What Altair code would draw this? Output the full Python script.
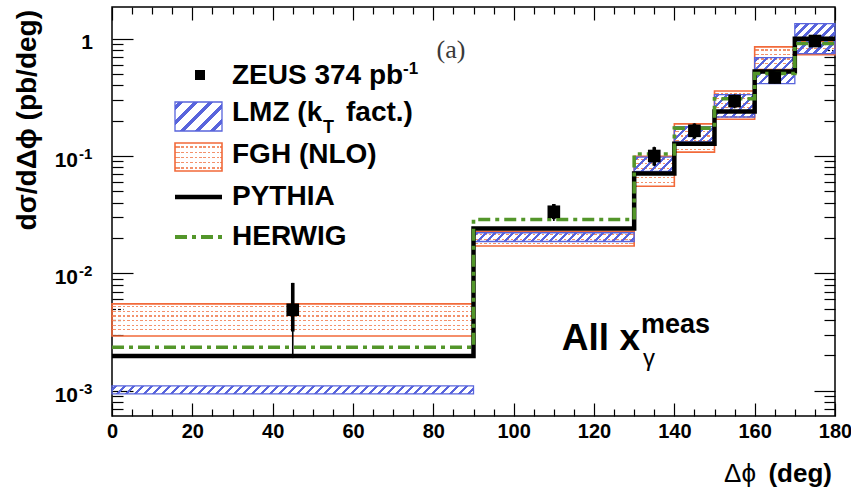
import math
import altair as alt
import pandas as pd

# ---------------- data ----------------
bin_lo = [0, 90, 130, 140, 150, 160, 170]
bin_hi = [90, 130, 140, 150, 160, 170, 180]

zeus_x = [45, 110, 135, 145, 155, 165, 175]
zeus_y = [4.9e-3, 0.0335, 0.100, 0.164, 0.294, 0.466, 0.954]
zeus_stat_hi = [8.3e-3, 0.039, 0.119, 0.189, 0.330, 0.520, 1.05]
zeus_stat_lo = [3.2e-3, 0.029, 0.083, 0.141, 0.260, 0.420, 0.87]
zeus_tot_hi = [8.3e-3, 0.039, 0.120, 0.190, 0.335, 0.525, 1.06]
zeus_tot_lo = [1.9e-3, 0.028, 0.082, 0.139, 0.255, 0.415, 0.86]

pythia = [1.98e-3, 0.0241, 0.071, 0.127, 0.240, 0.525, 1.00]
herwig = [2.35e-3, 0.0288, 0.104, 0.173, 0.308, 0.505, 0.91]

lmz_lo = [0.94e-3, 0.0187, 0.074, 0.132, 0.215, 0.414, 0.745]
lmz_hi = [1.10e-3, 0.0222, 0.098, 0.178, 0.334, 0.690, 1.34]
fgh_lo = [2.93e-3, 0.0171, 0.0553, 0.108, 0.206, 0.545, 0.73]
fgh_hi = [5.50e-3, 0.0227, 0.0995, 0.188, 0.358, 0.850, 0.95]

x_major = [0, 20, 40, 60, 80, 100, 120, 140, 160, 180]
x_minor = [v for v in range(0, 181, 5) if v % 20]
y_major = [0.001, 0.01, 0.1, 1]
y_label_exp = ["-3", "-2", "-1"]

# ---------------- layout / style ----------------
W, H = 723, 409
Y_MIN, Y_MAX = 6.1e-4, 1.86
PX_PER_DEG = W / 180.0
PX_PER_DEC = H / (math.log10(Y_MAX) - math.log10(Y_MIN))
y_minor = [k * 10 ** d for d in (-4, -3, -2, -1) for k in range(2, 10)
           if Y_MIN <= k * 10 ** d <= Y_MAX]

FONT = "Liberation Sans"
BLUE = "#5864dc"
ORANGE = "#f26a3a"
ORANGE_DOT = "#f3916b"
GREEN = "#53962a"
CLEAR = "rgba(255,255,255,0)"

xs = alt.Scale(domain=[0, 180], nice=False, zero=False)
ys = alt.Scale(type="log", domain=[Y_MIN, Y_MAX], nice=False)


def grad(stops, x2, y2):
    return alt.LinearGradient(
        gradient="linear",
        stops=[alt.GradientStop(offset=o, color=c) for o, c in stops],
        x1=0, y1=0, x2=x2, y2=y2)


def diag_fill(w, h, period, frac, color):
    a = (1 / h + 1 / w) / (1 / h ** 2 + 1 / w ** 2)
    dt = period / (w + h)
    stops = [(0, CLEAR)]
    k = 0
    while True:
        t0 = k * dt + 0.25 * dt
        if t0 >= 1:
            break
        t1 = min(t0 + frac * dt, 1)
        stops += [(t0, CLEAR), (t0, color), (t1, color), (t1, CLEAR)]
        k += 1
    stops.append((1, CLEAR))
    return grad(stops, a / h, a / w)


def hline_fill(h, period=4.6, lw=1.3, color=ORANGE_DOT, first=2.3):
    stops = [(0, CLEAR)]
    y = first
    while y + lw < h - 1.0:
        t0, t1 = y / h, (y + lw) / h
        stops += [(t0, CLEAR), (t0, color), (t1, color), (t1, CLEAR)]
        y += period
    stops.append((1, CLEAR))
    return grad(stops, 0, 1)


def vgap_fill(w, period=4.4, gap=1.9):
    stops = [(0, CLEAR)]
    x = period - gap
    while x < w:
        t0, t1 = x / w, min((x + gap) / w, 1)
        stops += [(t0, CLEAR), (t0, "white"), (t1, "white"), (t1, CLEAR)]
        x += period
    stops.append((1, CLEAR))
    return grad(stops, 1, 0)


def axis(orient, values, size):
    return alt.Axis(orient=orient, values=values, tickSize=size, offset=-size,
                    domain=False, grid=False, labels=False, title=None,
                    tickColor="black", tickWidth=1.2)


axes_plan = {
    ("fgh", 0): (alt.Axis(orient="bottom", values=x_major, tickSize=13, offset=-13,
                          domain=False, grid=False, title=None, tickColor="black",
                          tickWidth=1.2, labelFont=FONT, labelFontSize=20,
                          labelFontWeight="bold", labelColor="black", labelPadding=5,
                          labelFlush=False, labelOverlap=False),
                 axis("left", y_major, 21)),
    ("lmz", 0): (axis("bottom", x_minor, 7), axis("left", y_minor, 11)),
    ("fgh", 1): (axis("top", x_major, 13), axis("right", y_major, 21)),
    ("lmz", 1): (axis("top", x_minor, 7), axis("right", y_minor, 11)),
}

layers = []

# FGH bands (orange outline, dotted rows)
for i in range(len(bin_lo)):
    w = (bin_hi[i] - bin_lo[i]) * PX_PER_DEG
    h = (math.log10(fgh_hi[i]) - math.log10(fgh_lo[i])) * PX_PER_DEC
    df = pd.DataFrame({"x": [bin_lo[i]], "x2": [bin_hi[i]], "lo": [fgh_lo[i]], "hi": [fgh_hi[i]]})
    ax_x, ax_y = axes_plan.get(("fgh", i), (None, None))
    layers.append(alt.Chart(df).mark_rect(fill=hline_fill(h), stroke=ORANGE, strokeWidth=1.6).encode(
        x=alt.X("x:Q", scale=xs, axis=ax_x), x2="x2:Q",
        y=alt.Y("lo:Q", scale=ys, axis=ax_y), y2="hi:Q"))
    layers.append(alt.Chart(df).mark_rect(fill=vgap_fill(w - 4), xOffset=2, x2Offset=-2,
                                          yOffset=-1.5, y2Offset=1.5).encode(
        x=alt.X("x:Q", scale=xs, axis=None), x2="x2:Q",
        y=alt.Y("lo:Q", scale=ys, axis=None), y2="hi:Q"))

# LMZ bands (blue outline, diagonal hatch)
for i in range(len(bin_lo)):
    w = (bin_hi[i] - bin_lo[i]) * PX_PER_DEG
    h = (math.log10(lmz_hi[i]) - math.log10(lmz_lo[i])) * PX_PER_DEC
    df = pd.DataFrame({"x": [bin_lo[i]], "x2": [bin_hi[i]], "lo": [lmz_lo[i]], "hi": [lmz_hi[i]]})
    ax_x, ax_y = axes_plan.get(("lmz", i), (None, None))
    layers.append(alt.Chart(df).mark_rect(fill=diag_fill(w, h, 9, 0.36, BLUE), stroke=BLUE, strokeWidth=1.3).encode(
        x=alt.X("x:Q", scale=xs, axis=ax_x), x2="x2:Q",
        y=alt.Y("lo:Q", scale=ys, axis=ax_y), y2="hi:Q"))

# step histograms
edges = bin_lo + [bin_hi[-1]]
step_df = pd.DataFrame({"x": edges, "pythia": pythia + [pythia[-1]], "herwig": herwig + [herwig[-1]]})
layers.append(alt.Chart(step_df).mark_line(interpolate="step-after", color="black", strokeWidth=4.5).encode(
    x=alt.X("x:Q", scale=xs, axis=None), y=alt.Y("pythia:Q", scale=ys, axis=None)))
layers.append(alt.Chart(step_df).mark_line(interpolate="step-after", color=GREEN, strokeWidth=3.6,
                                           strokeDash=[12, 5, 4, 5]).encode(
    x=alt.X("x:Q", scale=xs, axis=None), y=alt.Y("herwig:Q", scale=ys, axis=None)))

# ZEUS data
zdf = pd.DataFrame({"x": zeus_x, "y": zeus_y, "slo": zeus_stat_lo, "shi": zeus_stat_hi,
                    "tlo": zeus_tot_lo, "thi": zeus_tot_hi})
layers.append(alt.Chart(zdf).mark_rule(color="black", strokeWidth=1.6).encode(
    x=alt.X("x:Q", scale=xs, axis=None), y=alt.Y("tlo:Q", scale=ys, axis=None), y2="thi:Q"))
layers.append(alt.Chart(zdf).mark_rule(color="black", strokeWidth=3.6).encode(
    x=alt.X("x:Q", scale=xs, axis=None), y=alt.Y("slo:Q", scale=ys, axis=None), y2="shi:Q"))
layers.append(alt.Chart(zdf).mark_point(shape="square", filled=True, size=160, color="black", opacity=1).encode(
    x=alt.X("x:Q", scale=xs, axis=None), y=alt.Y("y:Q", scale=ys, axis=None)))

# y tick labels (10 with superscript exponent)
ylab = pd.DataFrame({"v": y_major[:3], "e": y_label_exp})
layers.append(alt.Chart(ylab).mark_text(font=FONT, fontSize=21, fontWeight="bold", align="right",
                                        baseline="middle", dy=5, color="black").encode(
    x=alt.value(-34), y=alt.Y("v:Q", scale=ys, axis=None), text=alt.value("10")))
layers.append(alt.Chart(ylab).mark_text(font=FONT, fontSize=15, fontWeight="bold", align="left",
                                        baseline="middle", dy=-2, color="black").encode(
    x=alt.value(-33), y=alt.Y("v:Q", scale=ys, axis=None), text="e:N"))
layers.append(alt.Chart(pd.DataFrame({"v": [1]})).mark_text(font=FONT, fontSize=21, fontWeight="bold",
                                                             align="right", baseline="middle", dy=4,
                                                             color="black").encode(
    x=alt.value(-19), y=alt.Y("v:Q", scale=ys, axis=None), text=alt.value("1")))

one = pd.DataFrame({"a": [0]})


def txt(s, x, y, size, weight="bold", align="left", baseline="middle", font=FONT, color="black", angle=0):
    kw = dict(font=font, fontSize=size, fontWeight=weight, align=align, baseline=baseline, color=color)
    if angle:
        kw["angle"] = angle
    return alt.Chart(one).mark_text(**kw).encode(x=alt.value(x), y=alt.value(y), text=alt.value(s))


# axis titles
layers.append(txt("dσ/dΔϕ (pb/deg)", -84, 3, 28, align="right", angle=270))
layers.append(txt("(deg)", 720, 467, 26, align="right"))
layers.append(txt("Δϕ", 644, 467, 26, weight="normal", align="right"))

# legend
layers.append(alt.Chart(one).mark_point(shape="square", filled=True, size=100, color="black", opacity=1).encode(
    x=alt.value(88), y=alt.value(68)))
layers.append(txt("ZEUS 374 pb", 120, 69, 28))
layers.append(txt("-1", 291, 62, 17))
layers.append(alt.Chart(one).mark_rect(fill=diag_fill(47, 29, 15, 0.33, BLUE), stroke=BLUE, strokeWidth=1.3).encode(
    x=alt.value(63), x2=alt.value(110), y=alt.value(95), y2=alt.value(124)))
layers.append(txt("LMZ (k", 120, 106, 28))
layers.append(txt("T", 211, 121, 18))
layers.append(txt("fact.)", 234, 106, 28))
layers.append(alt.Chart(one).mark_rect(fill=hline_fill(28, period=5.2, lw=1.4, first=3.5), stroke=ORANGE,
                                       strokeWidth=1.6).encode(
    x=alt.value(63), x2=alt.value(110), y=alt.value(136), y2=alt.value(164)))
layers.append(alt.Chart(one).mark_rect(fill=vgap_fill(43)).encode(
    x=alt.value(65), x2=alt.value(108), y=alt.value(138), y2=alt.value(162)))
layers.append(txt("FGH (NLO)", 120, 148, 28))
layers.append(alt.Chart(one).mark_rule(color="black", strokeWidth=4.5).encode(
    x=alt.value(63), x2=alt.value(110), y=alt.value(190)))
layers.append(txt("PYTHIA", 120, 190, 28))
layers.append(alt.Chart(one).mark_rule(color=GREEN, strokeWidth=4, strokeDash=[12, 5, 4, 5]).encode(
    x=alt.value(63), x2=alt.value(110), y=alt.value(230)))
layers.append(txt("HERWIG", 120, 230, 28))

# annotations
layers.append(txt("(a)", 339, 43, 26, weight="normal", align="center", font="Liberation Serif", color="#3a3a3a"))
layers.append(txt("All x", 528, 343, 37, align="right", baseline="alphabetic"))
layers.append(txt("meas", 529, 326, 27, baseline="alphabetic"))
layers.append(txt("γ", 531, 352, 24, weight="normal"))

chart = alt.layer(*layers).resolve_axis(x="independent", y="independent").properties(
    width=W, height=H,
    padding={"left": 112, "top": 7, "right": 16, "bottom": 73},
    autosize=alt.AutoSizeParams(type="none"),
    background="white",
).configure_view(stroke="black", strokeWidth=1.5)

chart.save("out.html", embed_options={"renderer": "svg", "actions": False})
